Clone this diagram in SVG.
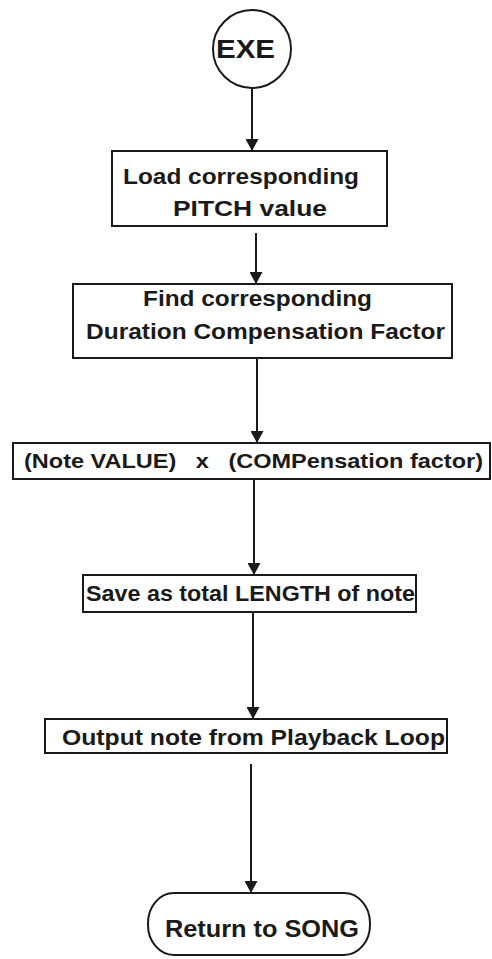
<svg xmlns="http://www.w3.org/2000/svg" width="492" height="959" viewBox="0 0 492 959">
<defs>
<style>
.box{fill:#fff;stroke:#1a1a1a;stroke-width:2}
.ln{stroke:#1a1a1a;stroke-width:2;fill:none}
.t{font-family:"Liberation Sans",Arial,sans-serif;font-weight:bold;fill:#1a1a1a;font-size:22px}
</style>
<marker id="ah" viewBox="0 0 12 13" refX="12" refY="6.5" markerWidth="12" markerHeight="13" markerUnits="userSpaceOnUse" orient="auto">
<path d="M0,0 L12,6.5 L0,13 Z" fill="#1a1a1a"/>
</marker>
</defs>
<rect width="492" height="959" fill="#fff"/>
<g id="connectors">
<line class="ln" x1="252" y1="89" x2="252" y2="151" marker-end="url(#ah)"/>
<line class="ln" x1="256" y1="233" x2="256" y2="284" marker-end="url(#ah)"/>
<line class="ln" x1="257" y1="358" x2="257" y2="443" marker-end="url(#ah)"/>
<line class="ln" x1="254" y1="479" x2="254" y2="575" marker-end="url(#ah)"/>
<line class="ln" x1="253" y1="612" x2="253" y2="719" marker-end="url(#ah)"/>
<line class="ln" x1="251" y1="764" x2="251" y2="893" marker-end="url(#ah)"/>
</g>
<g id="exe">
<circle class="box" cx="252" cy="49" r="39"/>
<text class="t" x="216" y="58" style="font-size:25px" textLength="59" lengthAdjust="spacingAndGlyphs">EXE</text>
</g>
<g id="load-pitch">
<rect class="box" x="112" y="151" width="275" height="75"/>
<text class="t" x="123" y="184" textLength="236" lengthAdjust="spacingAndGlyphs">Load corresponding</text>
<text class="t" x="173" y="216" textLength="154" lengthAdjust="spacingAndGlyphs">PITCH  value</text>
</g>
<g id="find-factor">
<rect class="box" x="73" y="284" width="379" height="74"/>
<text class="t" x="143" y="306" textLength="229" lengthAdjust="spacingAndGlyphs">Find corresponding</text>
<text class="t" x="86" y="339" textLength="359" lengthAdjust="spacingAndGlyphs">Duration Compensation Factor</text>
</g>
<g id="multiply">
<rect class="box" x="13" y="443" width="477" height="36"/>
<text class="t" x="24" y="468" style="font-size:21px" textLength="459" lengthAdjust="spacingAndGlyphs" xml:space="preserve">(Note VALUE)   x   (COMPensation factor)</text>
</g>
<g id="save-length">
<rect class="box" x="83" y="575" width="333" height="37"/>
<text class="t" x="86" y="601" textLength="329" lengthAdjust="spacingAndGlyphs">Save as total LENGTH of note</text>
</g>
<g id="output-note">
<rect class="box" x="45" y="719" width="402" height="34"/>
<text class="t" x="62" y="745" textLength="383" lengthAdjust="spacingAndGlyphs">Output note from Playback Loop</text>
</g>
<g id="return-song">
<rect class="box" x="148" y="893" width="222" height="62" rx="26" ry="30"/>
<text class="t" x="165" y="937" style="font-size:23px" textLength="194" lengthAdjust="spacingAndGlyphs">Return to SONG</text>
</g>
</svg>
